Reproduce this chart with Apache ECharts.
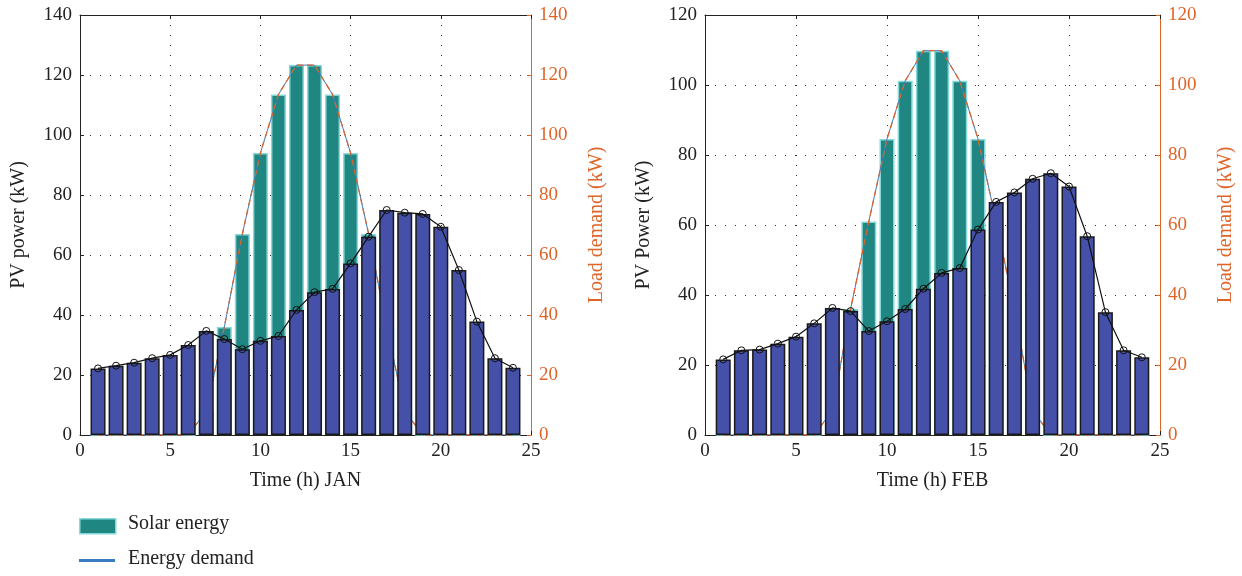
<!DOCTYPE html>
<html>
<head>
<meta charset="utf-8">
<script src="https://cdn.jsdelivr.net/npm/echarts@6/dist/echarts.min.js"></script>
<style>html,body{margin:0;padding:0;background:#fff;}#c{width:1242px;height:576px;}</style>
</head>
<body>
<div id="c"></div>
<script>
const hours = [1,2,3,4,5,6,7,8,9,10,11,12,13,14,15,16,17,18,19,20,21,22,23,24];
const janSolar = [0,0,0,0,0,0,8,36,67,94,113.5,123.3,123.3,113.5,94,67,36,8,0,0,0,0,0,0];
const janLoad = [22.2,23.1,24.1,25.6,26.7,30,34.7,32,28.6,31.4,33,41.7,47.6,48.7,57.2,66.1,75,74.1,73.7,69.4,55,37.8,25.6,22.4];
const febSolar = [0,0,0,0,0,0,7,36,61,84.6,101.2,109.8,109.8,101.2,84.6,61,36,7,0,0,0,0,0,0];
const febLoad = [21.6,24.2,24.4,26.1,28.1,31.9,36.3,35.4,29.7,32.5,36,41.8,46.3,47.7,58.7,66.6,69.3,73.2,74.8,71,56.8,35.1,24.2,22.2];
const xTicks = [0,5,10,15,20,25];
const janYMax = 140, febYMax = 120, yStep = 20;

const FONT = 'Liberation Serif';
const ORANGE = '#DF6428';
const pair = (xs, ys) => xs.map((x, i) => [x, ys[i]]);

function xAx(grid, name, show) {
  return {
    type: 'value', gridIndex: grid, min: xTicks[0], max: xTicks[xTicks.length - 1], interval: 5,
    position: show ? 'bottom' : 'top',
    name: show ? name : '', nameLocation: 'middle', nameGap: 36,
    nameTextStyle: { fontFamily: FONT, fontSize: 20, color: '#222' },
    axisLine: { show: true, onZero: false, lineStyle: { color: '#222', width: 1 } },
    axisTick: { show: true, inside: true, length: 4, lineStyle: { color: '#222' } },
    axisLabel: { show: show, fontFamily: FONT, fontSize: 19, color: '#222', margin: 7 },
    splitLine: { show: show, lineStyle: { type: [1, 9], color: '#333', width: 1 } }
  };
}
function yAx(grid, max, name, right) {
  const col = right ? ORANGE : '#222';
  return {
    type: 'value', gridIndex: grid, min: 0, max: max, interval: yStep,
    position: right ? 'right' : 'left',
    name: name, nameLocation: 'middle', nameGap: right ? 56 : 51, nameRotate: 90,
    nameTextStyle: { fontFamily: FONT, fontSize: 20, color: col },
    axisLine: { show: true, onZero: false, lineStyle: { color: col, width: 1 } },
    axisTick: { show: true, inside: true, length: 4, lineStyle: { color: col } },
    axisLabel: { fontFamily: FONT, fontSize: 19, color: col, margin: 8 },
    splitLine: { show: !right, lineStyle: { type: [1, 9], color: '#333', width: 1 } }
  };
}
function seriesFor(xi, yi, solar, load) {
  return [
    { type: 'bar', name: 'Solar energy', xAxisIndex: xi, yAxisIndex: yi, data: pair(hours, solar),
      barWidth: 15, barGap: '-100%', z: 1,
      itemStyle: { color: '#1F8682', borderColor: '#86D9DA', borderWidth: 1.5 } },
    { type: 'line', name: 'Energy demand', xAxisIndex: xi, yAxisIndex: yi, data: pair(hours, solar),
      symbol: 'none', z: 2, lineStyle: { color: '#3A7CC4', width: 1 } },
    { type: 'line', name: 'solarDash', xAxisIndex: xi, yAxisIndex: yi, data: pair(hours, solar),
      symbol: 'none', z: 3, lineStyle: { color: ORANGE, width: 1.3, type: [6, 4] } },
    { type: 'bar', name: 'load', xAxisIndex: xi, yAxisIndex: yi, data: pair(hours, load),
      barWidth: 15, barGap: '-100%', z: 4,
      itemStyle: { color: '#4550A8', borderColor: '#1a1a1a', borderWidth: 1.5 } },
    { type: 'line', name: 'loadLine', xAxisIndex: xi, yAxisIndex: yi, data: pair(hours, load),
      symbol: 'circle', symbolSize: 7, z: 10,
      lineStyle: { color: '#111', width: 1.2 },
      itemStyle: { color: 'rgba(0,0,0,0)', borderColor: '#111', borderWidth: 1 } }
  ];
}

const chart = echarts.init(document.getElementById('c'));
chart.setOption({
  animation: false,
  grid: [
    { left: 80, top: 15, width: 451, height: 420 },
    { left: 705, top: 15, width: 455, height: 420 }
  ],
  xAxis: [
    xAx(0, 'Time (h) JAN', true), xAx(1, 'Time (h) FEB', true),
    xAx(0, '', false), xAx(1, '', false)
  ],
  yAxis: [
    yAx(0, janYMax, 'PV power (kW)', false), yAx(0, janYMax, 'Load demand (kW)', true),
    yAx(1, febYMax, 'PV Power (kW)', false), yAx(1, febYMax, 'Load demand (kW)', true)
  ],
  series: [].concat(seriesFor(0, 0, janSolar, janLoad), seriesFor(1, 2, febSolar, febLoad)),
  graphic: [
    { type: 'rect', left: 79, top: 518, shape: { width: 36, height: 15 },
      style: { fill: '#1F8682', stroke: '#86D9DA', lineWidth: 1.5 } },
    { type: 'text', left: 128, top: 514, style: { text: 'Solar energy', font: '20px ' + FONT, fill: '#222' } },
    { type: 'rect', left: 79, top: 559, shape: { width: 36, height: 3 },
      style: { fill: '#3A7CC4' } },
    { type: 'text', left: 128, top: 549, style: { text: 'Energy demand', font: '20px ' + FONT, fill: '#222' } }
  ]
});
</script>
</body>
</html>
